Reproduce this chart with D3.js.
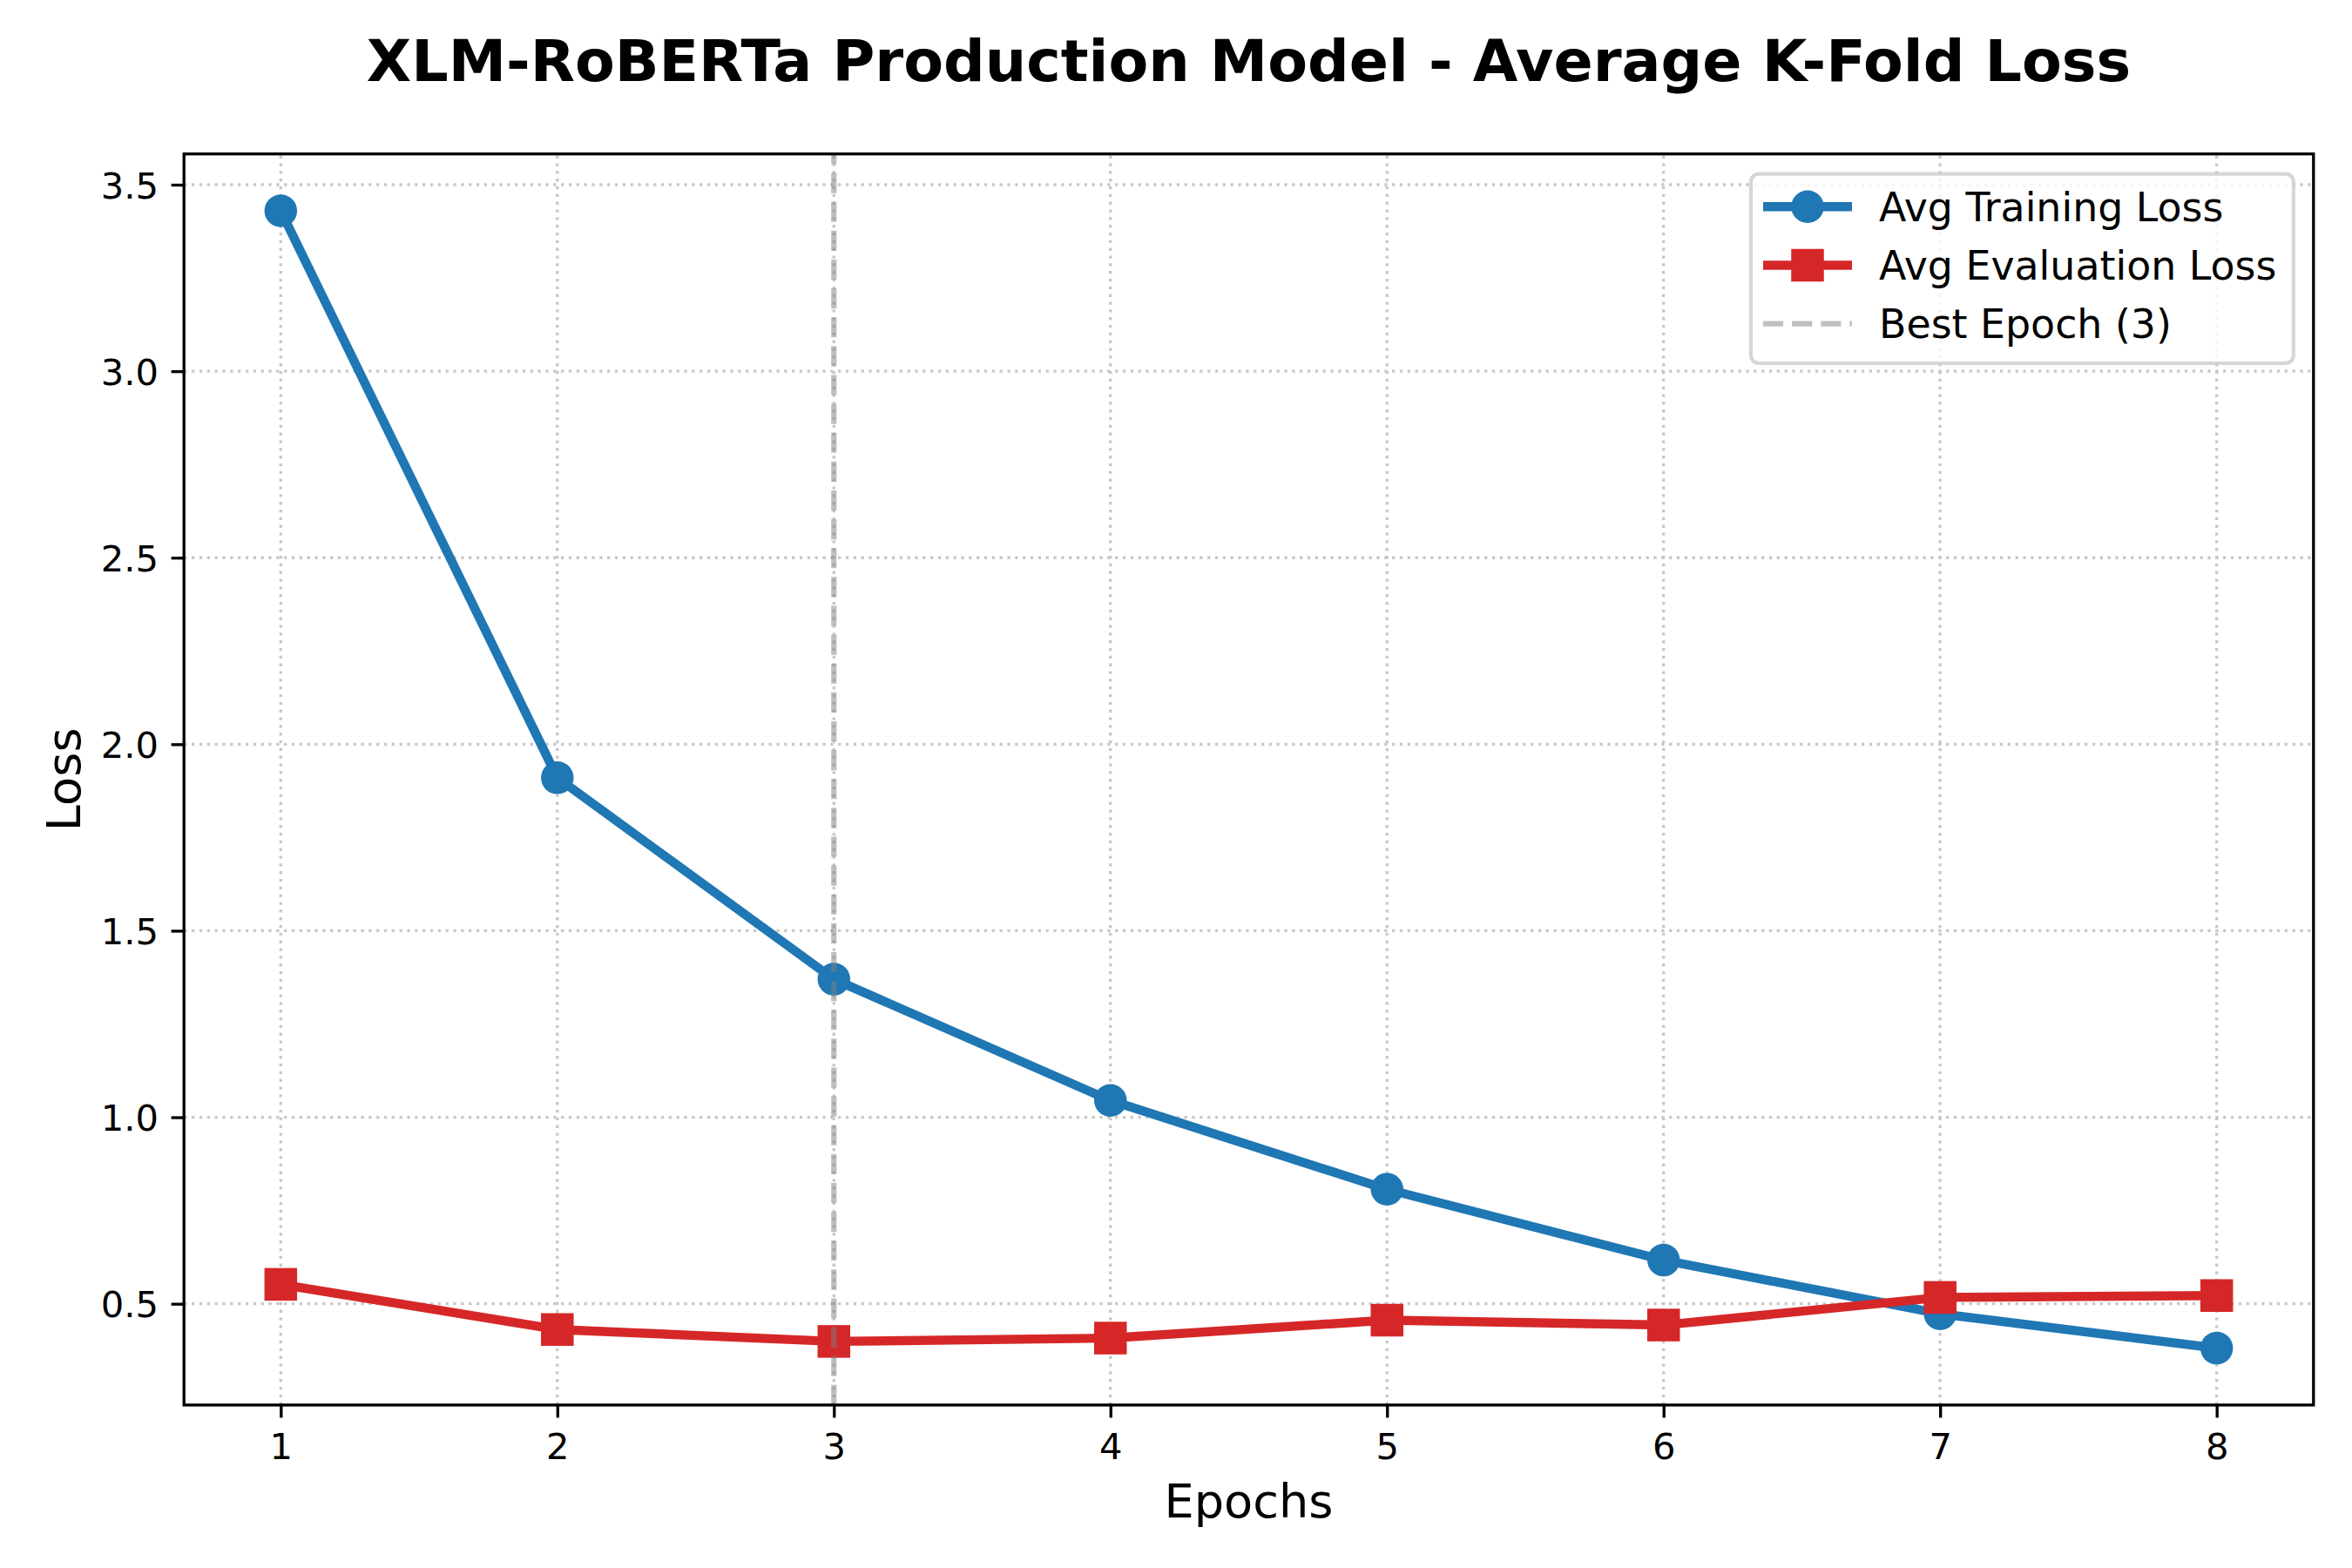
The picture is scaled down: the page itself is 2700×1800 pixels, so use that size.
<!DOCTYPE html>
<html>
<head>
<meta charset="utf-8">
<script src="https://cdn.jsdelivr.net/npm/d3@7"></script>
<style>
  html, body { margin: 0; padding: 0; background: #ffffff; }
  svg text { font-family: "DejaVu Sans", sans-serif; }
</style>
</head>
<body>
<svg id="chart" width="2700" height="1800"></svg>
<script>
// ---- data ----
const epochs = [1, 2, 3, 4, 5, 6, 7, 8];
const trainLoss = [3.43, 1.91, 1.37, 1.045, 0.807, 0.617, 0.473, 0.381];
const evalLoss = [0.552, 0.431, 0.399, 0.408, 0.456, 0.443, 0.517, 0.522];
const bestEpoch = 3;
const yTicks = [0.5, 1.0, 1.5, 2.0, 2.5, 3.0, 3.5];
const xTicks = [1, 2, 3, 4, 5, 6, 7, 8];
const titleText = "XLM-RoBERTa Production Model - Average K-Fold Loss";
const legendLabels = ["Avg Training Loss", "Avg Evaluation Loss", "Best Epoch (3)"];

// ---- layout ----
const PT = 300 / 72;
const W = 2700, H = 1800;
const pL = 211.2, pR = 2655.8, pT = 176.7, pB = 1612.9;
const blue = "#1f77b4", red = "#d62728";

const svg = d3.select("#chart");
svg.append("rect").attr("width", W).attr("height", H).attr("fill", "#fff");

const xMin = d3.min(epochs), xMax = d3.max(epochs);
const xPad = (xMax - xMin) * 0.05;
const x = d3.scaleLinear().domain([xMin - xPad, xMax + xPad]).range([pL, pR]);

const allY = trainLoss.concat(evalLoss);
const yLo = d3.min(allY), yHi = d3.max(allY);
const yPad = (yHi - yLo) * 0.05;
const y = d3.scaleLinear().domain([yLo - yPad, yHi + yPad]).range([pB, pT]);

// ---- grid ----
const grid = svg.append("g");
const gridStyle = sel => sel.attr("stroke", "#c8c8c8").attr("stroke-width", 0.8 * PT)
  .attr("stroke-dasharray", `${1 * 0.8 * PT} ${1.65 * 0.8 * PT}`).attr("fill", "none");
grid.selectAll("line.gx").data(xTicks).enter().append("line")
  .attr("x1", d => x(d)).attr("x2", d => x(d)).attr("y1", pB).attr("y2", pT).call(gridStyle);
grid.selectAll("line.gy").data(yTicks).enter().append("line")
  .attr("x1", pL).attr("x2", pR).attr("y1", d => y(d)).attr("y2", d => y(d)).call(gridStyle);

// ---- series ----
const plot = svg.append("g");
const lineGen = d3.line().x(d => x(d[0])).y(d => y(d[1]));
const mSize = 9 * PT; // marker 8pt + 1pt edge

const trainPts = epochs.map((e, i) => [e, trainLoss[i]]);
const evalPts = epochs.map((e, i) => [e, evalLoss[i]]);

plot.append("path").datum(trainPts).attr("d", lineGen)
  .attr("fill", "none").attr("stroke", blue).attr("stroke-width", 2.5 * PT)
  .attr("stroke-linejoin", "round").attr("stroke-linecap", "square");
plot.selectAll("circle.t").data(trainPts).enter().append("circle")
  .attr("cx", d => x(d[0])).attr("cy", d => y(d[1])).attr("r", mSize / 2).attr("fill", blue);

plot.append("path").datum(evalPts).attr("d", lineGen)
  .attr("fill", "none").attr("stroke", red).attr("stroke-width", 2.5 * PT)
  .attr("stroke-linejoin", "round").attr("stroke-linecap", "square");
plot.selectAll("rect.e").data(evalPts).enter().append("rect")
  .attr("x", d => x(d[0]) - mSize / 2).attr("y", d => y(d[1]) - mSize / 2)
  .attr("width", mSize).attr("height", mSize).attr("fill", red);

// best epoch line
plot.append("line").attr("x1", x(bestEpoch)).attr("x2", x(bestEpoch)).attr("y1", pB).attr("y2", pT)
  .attr("stroke", "gray").attr("stroke-opacity", 0.5).attr("stroke-width", 1.5 * PT)
  .attr("stroke-dasharray", `${3.7 * 1.5 * PT} ${1.6 * 1.5 * PT}`);

// ---- axes ----
const xAxis = d3.axisBottom(x).tickValues(xTicks).tickFormat(d3.format("d"))
  .tickSize(3.5 * PT).tickPadding(3.5 * PT);
const yAxis = d3.axisLeft(y).tickValues(yTicks).tickFormat(d3.format(".1f"))
  .tickSize(3.5 * PT).tickPadding(3.5 * PT);

const gx = svg.append("g").attr("transform", `translate(0,${pB})`).call(xAxis);
const gy = svg.append("g").attr("transform", `translate(${pL},0)`).call(yAxis);
[gx, gy].forEach(g => {
  g.select(".domain").remove();
  g.selectAll(".tick line").attr("stroke", "#000").attr("stroke-width", 0.8 * PT);
  g.selectAll(".tick text").attr("fill", "#000").style("font-size", (10 * PT) + "px")
    .style("font-family", "DejaVu Sans, sans-serif");
});
gx.selectAll(".tick text").attr("dy", null).attr("y", 1675.4 - pB);
gy.selectAll(".tick text").attr("dy", "0.36em");

// spines
svg.append("rect").attr("x", pL).attr("y", pT).attr("width", pR - pL).attr("height", pB - pT)
  .attr("fill", "none").attr("stroke", "#000").attr("stroke-width", 0.8 * PT);

// ---- labels ----
svg.append("text").attr("x", (pL + pR) / 2).attr("y", 93.3).attr("text-anchor", "middle")
  .style("font-size", (16 * PT) + "px").style("font-weight", "bold").text(titleText);
svg.append("text").attr("x", (pL + pR) / 2).attr("y", 1741.7).attr("text-anchor", "middle")
  .style("font-size", (13 * PT) + "px").text("Epochs");
svg.append("text").attr("transform", `translate(91.7,${(pT + pB) / 2}) rotate(-90)`)
  .attr("text-anchor", "middle").style("font-size", (13 * PT) + "px").text("Loss");

// ---- legend ----
const fs = 11 * PT;
const lg = svg.append("g");
const lgL = 2010, lgR = pR - 0.5 * fs, lgT = pT + 0.5 * fs, lgB = 417;
lg.append("rect").attr("x", lgL).attr("y", lgT).attr("width", lgR - lgL).attr("height", lgB - lgT)
  .attr("rx", 0.2 * fs).attr("ry", 0.2 * fs)
  .attr("fill", "#fff").attr("fill-opacity", 0.8).attr("stroke", "#cccccc").attr("stroke-opacity", 0.8)
  .attr("stroke-width", 1 * PT);
const rowY = [237.3, 304.5, 371.7];
const hx0 = 2024, hx1 = 2126, hxm = (hx0 + hx1) / 2;
const styles = [
  { color: blue, marker: "circle", dash: null, width: 2.5 * PT, opacity: 1 },
  { color: red, marker: "square", dash: null, width: 2.5 * PT, opacity: 1 },
  { color: "gray", marker: null, dash: `${3.7 * 1.5 * PT} ${1.6 * 1.5 * PT}`, width: 1.5 * PT, opacity: 0.5 }
];
legendLabels.forEach((lab, i) => {
  const s = styles[i], cy = rowY[i];
  const ln = lg.append("line").attr("x1", hx0).attr("x2", hx1).attr("y1", cy).attr("y2", cy)
    .attr("stroke", s.color).attr("stroke-width", s.width).attr("stroke-opacity", s.opacity);
  if (s.dash) ln.attr("stroke-dasharray", s.dash);
  if (s.marker === "circle") lg.append("circle").attr("cx", hxm).attr("cy", cy).attr("r", mSize / 2).attr("fill", s.color);
  if (s.marker === "square") lg.append("rect").attr("x", hxm - mSize / 2).attr("y", cy - mSize / 2)
    .attr("width", mSize).attr("height", mSize).attr("fill", s.color);
  lg.append("text").attr("x", 2157).attr("y", cy).attr("dy", "0.36em")
    .style("font-size", fs + "px").attr("fill", "#000").text(lab);
});
</script>
</body>
</html>
